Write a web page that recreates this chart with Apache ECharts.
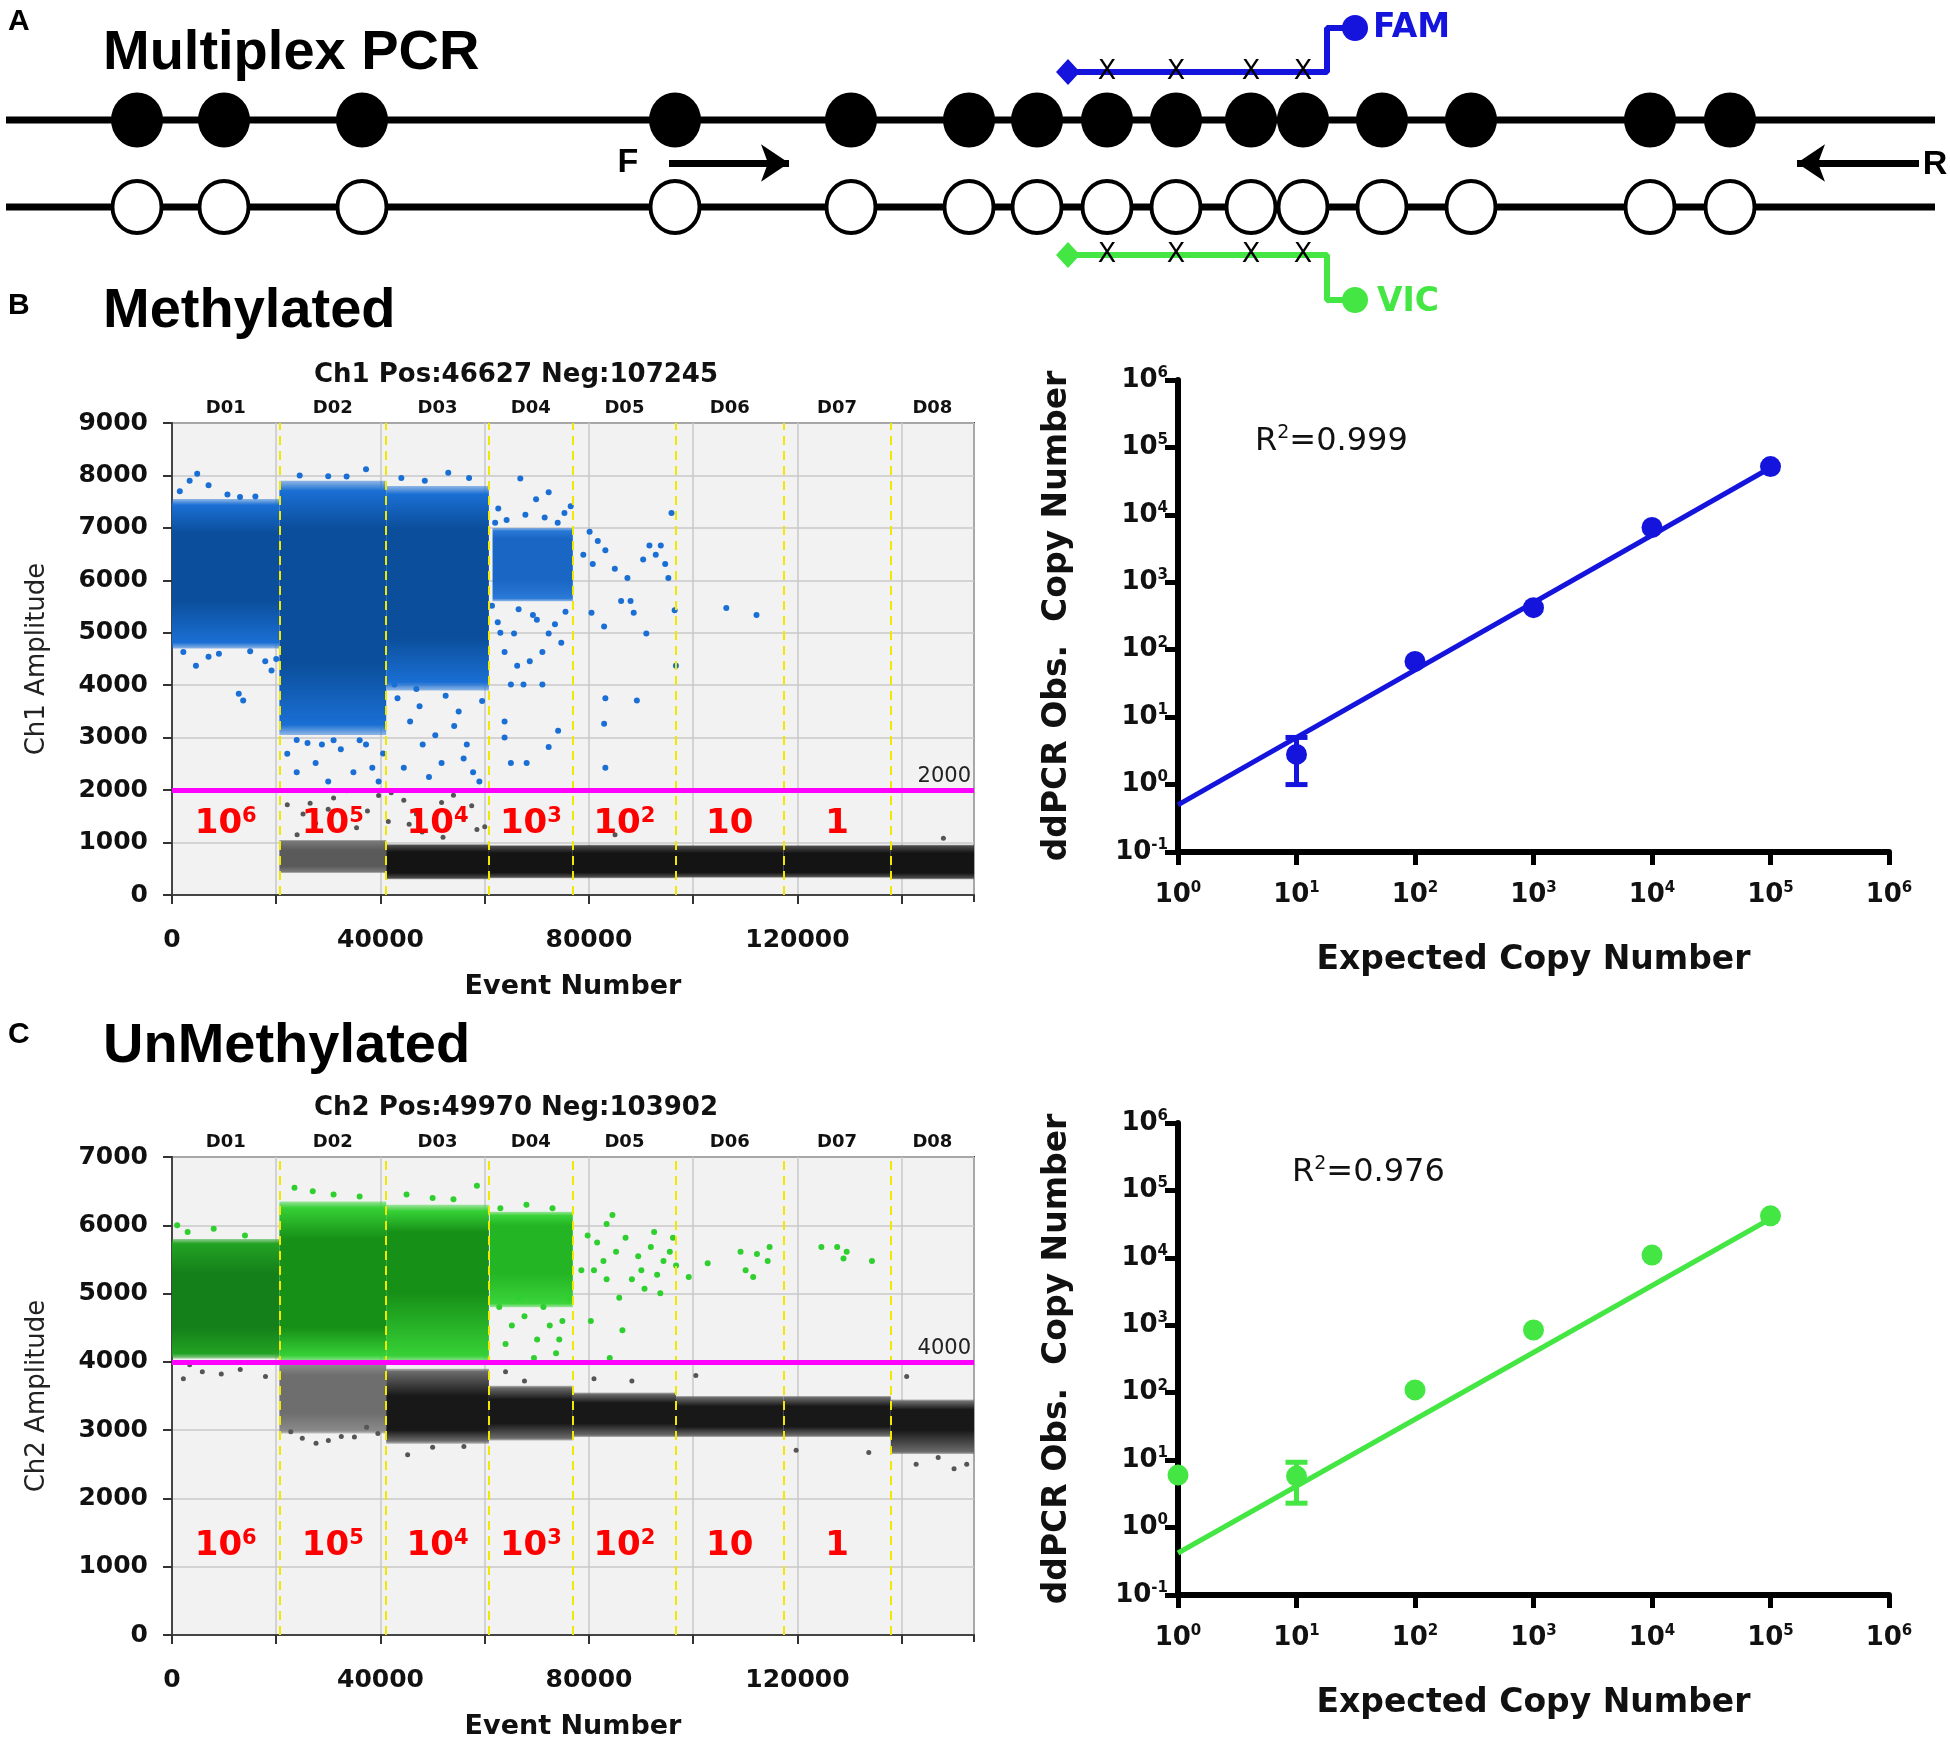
<!DOCTYPE html>
<html>
<head>
<meta charset="utf-8">
<script src="https://cdn.jsdelivr.net/npm/echarts@6/dist/echarts.min.js"></script>
<style>
  html, body { margin: 0; padding: 0; background: #fff; }
  #chart { width: 1950px; height: 1739px; }
</style>
</head>
<body>
<div id="chart"></div>
<script>
// ---- panel A: schematic (positions along the amplicon, page units) ----
var cpgSites = [137, 224, 362, 675, 851, 969, 1037, 1107, 1176, 1251, 1303, 1382, 1471, 1650, 1730];
var probeSites = [1107, 1176, 1251, 1303];
var primers = [[669, 789], [1919, 1797]];
var strandRows = [120, 207];
var probeFam = [[1068, 72], [1327, 72], [1327, 28], [1355, 28]];
var probeVic = [[1068, 255], [1327, 255], [1327, 300], [1355, 300]];

// ---- droplet plots ----
var totalEvents = 153872;
var wellEdges = [0, 20600, 41100, 60800, 76900, 96700, 117300, 137900, 153872];
var wellNames = ['D01', 'D02', 'D03', 'D04', 'D05', 'D06', 'D07', 'D08'];
var copyExp = [6, 5, 4, 3, 2, 1, 0];

// clouds: [eventStart, eventEnd, ampLow, ampHigh, coreLow, coreHigh]
var ch1Pos = [
  [0, 20600, 4700, 7550, 5600, 6900],
  [20600, 41100, 3050, 7900, 4400, 7000],
  [41100, 60800, 3900, 7800, 4900, 7000]
];
var ch1PosD04 = [[61500, 76900, 5600, 7000, 6000, 6800]];
var ch1NegGrey = [[20600, 41100, 420, 1050, 550, 850]];
var ch1NegBlack = [
  [41100, 60800, 300, 970, 420, 820], [60800, 76900, 320, 950, 430, 800],
  [76900, 96700, 320, 960, 430, 800], [96700, 117300, 330, 950, 430, 800],
  [117300, 137900, 330, 950, 430, 800], [137900, 153872, 300, 960, 420, 800]
];
var ch1PosSparse = [
  [2175, 4634], [4592, 4369], [7009, 4545], [12810, 3839], [13656, 3707], [17886, 4457], [19094, 4281],
  [4834, 8032], [3384, 7899], [7009, 7811], [10635, 7635], [13052, 7590], [1500, 7700], [16000, 7600],
  [9000, 4600], [15000, 4650], [20000, 4500],
  [22115, 2692], [23928, 2339], [27553, 2515], [29970, 2162], [32388, 2780], [34805, 2339], [37222, 2868],
  [39639, 2162], [28762, 2868], [23928, 2957], [38430, 2427], [37222, 8120], [29970, 7987], [24500, 8000],
  [33500, 7980], [26000, 2900], [31000, 2950], [36000, 2950], [40500, 2700],
  [43264, 3751], [45681, 3310], [48098, 2868], [50515, 3045], [51724, 2515], [54141, 3222], [56558, 2868],
  [57766, 2339], [58975, 2162], [44473, 2427], [49307, 2251], [55954, 2604], [42660, 4016], [46890, 3928], [53000, 8050],
  [44000, 7950], [48500, 7900], [57000, 7950], [59500, 3700], [52500, 3800], [47500, 3600], [55000, 3500],
  [66830, 7943], [62600, 7370], [69851, 7546], [72268, 7679], [75289, 7282], [76498, 7414], [63810, 4634],
  [66227, 4369], [68644, 4457], [71060, 4016], [65019, 4016], [67436, 4016], [63810, 3310], [63810, 3001],
  [72268, 2824], [65019, 2515], [68040, 2515], [74080, 3133], [61393, 5516], [69247, 5340], [72268, 4987],
  [74685, 4810], [73476, 5163], [71060, 4634], [65623, 4987], [62500, 5200], [64200, 7150], [67800, 7250],
  [63000, 5000], [66500, 5450], [70000, 5250], [75500, 5400], [62000, 7100], [71500, 7200], [74000, 7100],
  [80123, 6928], [81695, 6752], [78915, 6487], [83145, 6576], [80728, 6311], [84958, 6222], [80486, 5384],
  [86166, 5605], [82903, 5119], [87979, 5605], [88583, 5384], [87375, 6046], [90396, 6399], [91604, 6664],
  [92813, 6487], [93780, 6664], [94625, 6311], [95230, 6046], [91000, 4987], [95834, 7282], [96438, 5428],
  [96680, 4369], [83145, 3751], [89187, 3707], [82903, 3266], [83145, 2427],
  [106348, 5472], [112148, 5340]
];
var ch1NegSparse = [
  [22115, 1721], [25136, 1545], [29970, 1633], [33597, 1986], [39639, 1898], [44473, 1809], [51724, 1765],
  [55954, 1456], [46890, 1545], [27553, 1368], [35409, 1280], [42056, 1950], [60000, 1300], [48000, 1200],
  [24000, 1150], [52000, 1100], [31000, 1850], [57500, 1700], [85000, 1150], [148000, 1080],
  [26500, 1750], [37500, 1600], [41500, 1400], [45500, 1350], [54000, 1900], [58500, 1250]
];

var ch2Pos = [
  [0, 20600, 4050, 5800, 4500, 5300],
  [20600, 41100, 4000, 6350, 4500, 5800],
  [41100, 60800, 4000, 6300, 5000, 5900]
];
var ch2PosD04 = [[61000, 76900, 4800, 6200, 5300, 6000]];
var ch2NegGrey = [[20600, 41100, 2950, 4000, 3250, 3800]];
var ch2NegDark = [
  [41100, 60800, 2800, 3900, 3000, 3500], [60800, 76900, 2850, 3650, 3100, 3450],
  [76900, 96700, 2900, 3550, 3100, 3400], [96700, 117300, 2900, 3500, 3050, 3350],
  [117300, 137900, 2900, 3500, 3050, 3350], [137900, 153872, 2650, 3450, 3000, 3300]
];
var ch2PosSparse = [
  [79750, 5850], [81570, 5749], [83386, 6019], [85200, 5613], [87022, 5816], [89446, 5546], [91870, 5681],
  [94294, 5478], [96112, 5816], [80962, 5343], [83386, 5208], [85810, 4937], [88234, 5208], [90658, 5072],
  [93082, 5275], [95506, 5613], [80356, 4599], [86416, 4464], [78538, 5343], [82780, 5478], [90052, 5343],
  [93688, 5005], [96718, 5410], [83992, 4058], [84500, 6150], [92500, 5900],
  [102778, 5444], [109080, 5613], [112231, 5579], [110050, 5343], [111504, 5241], [114292, 5478], [114656, 5681], [99142, 5241],
  [124594, 5681], [127624, 5681], [128836, 5512], [134290, 5478], [129442, 5613],
  [62782, 4802], [65206, 4531], [67630, 4667], [70054, 4328], [72478, 4531], [73690, 4125], [63994, 4261],
  [66418, 4937], [71266, 4802], [74902, 4599], [69448, 4058], [74296, 4328], [76114, 4937],
  [23500, 6550], [27000, 6500], [45000, 6450], [58500, 6580], [1000, 6000],
  [3000, 5900], [8000, 5950], [14000, 5850], [31000, 6450], [36000, 6420], [50000, 6400], [54000, 6380],
  [63000, 6250], [68000, 6300], [73000, 6250]
];
var ch2NegSparse = [
  [2182, 3753], [5818, 3855], [9454, 3821], [13090, 3889], [17938, 3787], [3394, 3956],
  [22786, 2976], [27634, 2807], [32482, 2908], [37330, 3043], [45208, 2638],
  [142774, 2502], [150046, 2435], [152470, 2502], [119746, 2705], [133684, 2671], [140956, 3787],
  [63994, 3855], [67630, 3720], [80962, 3753], [88234, 3720], [100500, 3800], [147000, 2600],
  [25000, 2880], [30000, 2850], [35000, 2900], [39500, 2950], [50000, 2750], [56000, 2760]
];

// ---- standard curves ----
var expected = [1, 10, 100, 1000, 10000, 100000];
var methObserved = [null, 2.8, 67, 420, 6500, 52000];
var methErr = [[10, 1.0, 5.0]];
var methFit = [[1, 0.5], [100000, 50000]];
var unmethObserved = [6.0, 5.8, 110, 850, 11000, 42000];
var unmethErr = [[10, 2.3, 9.3]];
var unmethFit = [[1, 0.42], [100000, 38000]];

var SANS = 'DejaVu Sans';
var ARIAL = 'Liberation Sans';
var BLUE = '#1414dc';
var GREEN = '#44e644';
var RED = '#ff0000';

var chart = echarts.init(document.getElementById('chart'));

function centers() {
  return wellNames.map(function (n, i) { return (wellEdges[i] + wellEdges[i + 1]) / 2; });
}

function fade(hex, a) {
  var n = parseInt(hex.slice(1), 16);
  return 'rgba(' + (n >> 16 & 255) + ',' + (n >> 8 & 255) + ',' + (n & 255) + ',' + a + ')';
}

function cloudRender(edge, core) {
  return function (params, api) {
    var lo = api.value(2), hi = api.value(3);
    var tl = api.coord([api.value(0), hi]);
    var br = api.coord([api.value(1), lo]);
    var f1 = (hi - api.value(5)) / (hi - lo);
    var f2 = (hi - api.value(4)) / (hi - lo);
    return {
      type: 'rect',
      shape: { x: tl[0], y: tl[1], width: br[0] - tl[0], height: br[1] - tl[1] },
      style: {
        fill: new echarts.graphic.LinearGradient(0, 0, 0, 1, [
          { offset: 0, color: fade(edge, 0.45) }, { offset: 0.04, color: edge },
          { offset: f1, color: core }, { offset: f2, color: core },
          { offset: 0.96, color: edge }, { offset: 1, color: fade(edge, 0.45) }
        ])
      }
    };
  };
}

function cloud(xi, yi, data, edge, core, extra) {
  var s = {
    type: 'custom', xAxisIndex: xi, yAxisIndex: yi, silent: true,
    renderItem: cloudRender(edge, core), data: data, z: 2
  };
  if (extra) Object.keys(extra).forEach(function (k) { s[k] = extra[k]; });
  return s;
}

function dots(xi, yi, data, color, size) {
  return {
    type: 'scatter', xAxisIndex: xi, yAxisIndex: yi, silent: true, data: data,
    symbolSize: size || 6, itemStyle: { color: color, opacity: 1 }, z: 3
  };
}

function wellLines() {
  return {
    silent: true, symbol: 'none', animation: false, label: { show: false },
    lineStyle: { color: '#f0e800', type: [9, 6], width: 2, opacity: 1 },
    data: wellEdges.slice(1, -1).map(function (v) { return { xAxis: v }; })
  };
}

function thresholdLine(v) {
  return {
    silent: true, symbol: 'none', animation: false,
    lineStyle: { color: '#ff00ff', width: 5, type: 'solid', opacity: 1 },
    label: {
      show: true, position: 'insideEndTop', formatter: String(v), distance: 3,
      color: '#222', fontSize: 21, fontFamily: SANS
    },
    data: [{ yAxis: v }]
  };
}

function wellLabelSeries(xi, yi, ymax) {
  return {
    type: 'scatter', xAxisIndex: xi, yAxisIndex: yi, silent: true, clip: false,
    symbolSize: 0, z: 10, itemStyle: { opacity: 1 },
    data: centers().map(function (c) { return [c, ymax]; }),
    label: {
      show: true, position: 'top', distance: 6,
      formatter: function (p) { return wellNames[p.dataIndex]; },
      fontFamily: SANS, fontWeight: 'bold', fontSize: 18, color: '#111'
    }
  };
}

function copyLabelSeries(xi, yi, yv) {
  var cs = centers();
  return {
    type: 'scatter', xAxisIndex: xi, yAxisIndex: yi, silent: true, symbolSize: 0, z: 10,
    itemStyle: { opacity: 1 },
    data: copyExp.map(function (e, i) { return [cs[i], yv]; }),
    label: {
      show: true, position: 'inside',
      formatter: function (p) {
        var e = copyExp[p.dataIndex];
        if (e === 0) return '{b|1}';
        if (e === 1) return '{b|10}';
        return '{b|10}{s|' + e + '}';
      },
      rich: {
        b: { fontFamily: SANS, fontWeight: 'bold', fontSize: 34, color: RED },
        s: { fontFamily: SANS, fontWeight: 'bold', fontSize: 21, color: RED, padding: [0, 0, 16, 0] }
      }
    }
  };
}

function logLabel(v) {
  var e = Math.round(Math.log10(v));
  return '{b|10}{s|' + e + '}';
}
var logRich = {
  b: { fontFamily: SANS, fontWeight: 'bold', fontSize: 26, color: '#111' },
  s: { fontFamily: SANS, fontWeight: 'bold', fontSize: 15, color: '#111', padding: [0, 0, 14, 0] }
};

function errRender(color) {
  return function (params, api) {
    var x = api.value(0);
    var p1 = api.coord([x, api.value(1)]);
    var p2 = api.coord([x, api.value(2)]);
    var st = { stroke: color, lineWidth: 5 };
    return {
      type: 'group', children: [
        { type: 'line', shape: { x1: p1[0], y1: p1[1], x2: p2[0], y2: p2[1] }, style: st },
        { type: 'line', shape: { x1: p1[0] - 11, y1: p1[1], x2: p1[0] + 11, y2: p1[1] }, style: st },
        { type: 'line', shape: { x1: p2[0] - 11, y1: p2[1], x2: p2[0] + 11, y2: p2[1] }, style: st }
      ]
    };
  };
}

function ampAxes(gi, max, name) {
  var y = {
    type: 'value', gridIndex: gi, min: 0, max: max, interval: 1000,
    name: name, nameLocation: 'middle', nameGap: 122,
    nameTextStyle: { fontFamily: SANS, fontSize: 26, color: '#222' },
    axisLine: { show: true, lineStyle: { color: '#444', width: 2 } },
    axisTick: { show: true, length: 9, lineStyle: { color: '#333', width: 2 } },
    axisLabel: {
      margin: 24, fontFamily: SANS, fontWeight: 'bold', fontSize: 25, color: '#111',
      formatter: function (v) { return String(v); }
    },
    splitLine: { show: true, lineStyle: { color: '#c9c9c9', width: 1.5 } }
  };
  var yr = {
    type: 'value', gridIndex: gi, min: 0, max: max, interval: 1000, position: 'right',
    axisLine: { show: true, lineStyle: { color: '#444', width: 2 } },
    axisTick: { show: true, inside: true, length: 7, lineStyle: { color: '#333', width: 2 } },
    axisLabel: { show: false }, splitLine: { show: false }
  };
  var x = {
    type: 'value', gridIndex: gi, min: 0, max: totalEvents, interval: 20000,
    name: 'Event Number', nameLocation: 'middle', nameGap: 78,
    nameTextStyle: { fontFamily: SANS, fontWeight: 'bold', fontSize: 27, color: '#111' },
    axisLine: { show: true, lineStyle: { color: '#444', width: 2 } },
    axisTick: { show: true, length: 9, lineStyle: { color: '#333', width: 2 } },
    axisLabel: {
      margin: 33, fontFamily: SANS, fontWeight: 'bold', fontSize: 25, color: '#111',
      showMaxLabel: false,
      formatter: function (v) { return v % 40000 === 0 ? String(v) : ''; }
    },
    splitLine: { show: true, lineStyle: { color: '#c9c9c9', width: 1.5 } }
  };
  var xt = {
    type: 'value', gridIndex: gi, min: 0, max: totalEvents, interval: 20000, position: 'top',
    axisLine: { show: true, lineStyle: { color: '#444', width: 2 } },
    axisTick: { show: true, inside: true, length: 7, lineStyle: { color: '#333', width: 2 } },
    axisLabel: { show: false }, splitLine: { show: false }
  };
  return { x: [x, xt], y: [y, yr] };
}

function logAxes(gi) {
  var common = {
    type: 'log', gridIndex: gi, logBase: 10,
    nameLocation: 'middle',
    nameTextStyle: { fontFamily: SANS, fontWeight: 'bold', fontSize: 33, color: '#111' },
    axisLine: { show: true, onZero: false, lineStyle: { color: '#000', width: 6 } },
    axisTick: { show: true, length: 13, lineStyle: { color: '#000', width: 5 } },
    splitLine: { show: false }, minorTick: { show: false }
  };
  var x = echarts.util.merge({}, common);
  x.min = 1; x.max = 1e6; x.name = 'Expected Copy Number'; x.nameGap = 92;
  x.axisLabel = { formatter: logLabel, rich: logRich, margin: 29 };
  var y = echarts.util.merge({}, common);
  y.min = 0.1; y.max = 1e6; y.name = 'ddPCR Obs.  Copy Number'; y.nameGap = 104;
  y.axisLabel = { formatter: logLabel, rich: logRich, margin: 10 };
  return { x: x, y: y };
}

function txt(x, y, s, font, color, align, rich) {
  return {
    type: 'text', x: x, y: y, silent: true, z: 100,
    style: {
      text: s, font: font, fill: color || '#000',
      align: align || 'left', verticalAlign: 'middle',
      textAlign: align || 'left', textVerticalAlign: 'middle', rich: rich
    }
  };
}

var r2Rich = {
  a: { fontFamily: SANS, fontSize: 32, color: '#111' },
  s: { fontFamily: SANS, fontSize: 19, color: '#111', padding: [0, 0, 18, 0] }
};

var B = ampAxes(1, 9000, 'Ch1 Amplitude');
var C = ampAxes(3, 7000, 'Ch2 Amplitude');
var BR = logAxes(2);
var CR = logAxes(4);

var xAxes = [
  { type: 'value', gridIndex: 0, min: 0, max: 1950, show: false },
  B.x[0], B.x[1], BR.x, C.x[0], C.x[1], CR.x
];
var yAxes = [
  { type: 'value', gridIndex: 0, min: 0, max: 330, inverse: true, show: false },
  B.y[0], B.y[1], BR.y, C.y[0], C.y[1], CR.y
];

var blueDot = '#1a6fd4', blueCore = '#0b4f9c';
var blackEdge = '#4a4a4a', blackCore = '#141414';

function schem(extra) {
  var s = { xAxisIndex: 0, yAxisIndex: 0, silent: true };
  Object.keys(extra).forEach(function (k) { s[k] = extra[k]; });
  return s;
}

var series = [
  // panel A
  schem({
    type: 'line', symbol: 'none',
    data: [[6, strandRows[0]], [1935, strandRows[0]]],
    lineStyle: { color: '#000', width: 7, opacity: 1 }, z: 1,
    markLine: {
      silent: true, animation: false, symbol: ['none', 'arrow'], symbolSize: 28,
      lineStyle: { color: '#000', width: 7, type: 'solid', opacity: 1 }, label: { show: false },
      data: primers.map(function (p) { return [{ coord: [p[0], 163] }, { coord: [p[1], 163] }]; })
    }
  }),
  schem({
    type: 'line', symbol: 'none',
    data: [[6, strandRows[1]], [1935, strandRows[1]]],
    lineStyle: { color: '#000', width: 7, opacity: 1 }, z: 1
  }),
  schem({
    type: 'scatter', symbolSize: [52, 55],
    data: cpgSites.map(function (x) { return [x, strandRows[0]]; }),
    itemStyle: { color: '#000', opacity: 1 }, z: 2
  }),
  schem({
    type: 'scatter', symbolSize: [49, 52],
    data: cpgSites.map(function (x) { return [x, strandRows[1]]; }),
    itemStyle: { color: '#fff', borderColor: '#000', borderWidth: 4, opacity: 1 }, z: 2
  }),
  schem({
    type: 'line', symbol: 'none',
    data: probeFam, lineStyle: { color: BLUE, width: 6, opacity: 1 }, z: 3
  }),
  schem({
    type: 'line', symbol: 'none',
    data: probeVic, lineStyle: { color: GREEN, width: 6, opacity: 1 }, z: 3
  }),
  schem({
    type: 'scatter', symbol: 'diamond', symbolSize: [24, 26],
    data: [probeFam[0]], itemStyle: { color: BLUE, opacity: 1 }, z: 4
  }),
  schem({
    type: 'scatter', symbolSize: 26,
    data: [probeFam[probeFam.length - 1]], itemStyle: { color: BLUE, opacity: 1 }, z: 4
  }),
  schem({
    type: 'scatter', symbol: 'diamond', symbolSize: [24, 26],
    data: [probeVic[0]], itemStyle: { color: GREEN, opacity: 1 }, z: 4
  }),
  schem({
    type: 'scatter', symbolSize: 26,
    data: [probeVic[probeVic.length - 1]], itemStyle: { color: GREEN, opacity: 1 }, z: 4
  }),
  schem({
    type: 'scatter', symbolSize: 0, z: 5, itemStyle: { opacity: 1 },
    data: probeSites.map(function (x) { return [x, probeFam[0][1]]; })
      .concat(probeSites.map(function (x) { return [x, probeVic[0][1]]; })),
    label: { show: true, position: 'inside', formatter: 'X', fontFamily: SANS, fontSize: 27, color: '#000' }
  }),

  // panel B left
  cloud(1, 1, ch1Pos, blueDot, blueCore, { markLine: wellLines() }),
  cloud(1, 1, ch1PosD04, '#2a7ad8', '#1a66c4'),
  cloud(1, 1, ch1NegGrey, '#7a7a7a', '#5a5a5a'),
  cloud(1, 1, ch1NegBlack, blackEdge, blackCore),
  dots(1, 1, ch1PosSparse, blueDot, 6),
  dots(1, 1, ch1NegSparse, '#555555', 5),
  {
    type: 'line', xAxisIndex: 1, yAxisIndex: 1, data: [], silent: true,
    markLine: thresholdLine(2000), z: 6
  },
  wellLabelSeries(1, 1, 9000),
  copyLabelSeries(1, 1, 1350),

  // panel B right
  {
    type: 'line', xAxisIndex: 3, yAxisIndex: 3, silent: true, symbol: 'none',
    data: methFit, lineStyle: { color: BLUE, width: 5, opacity: 1 }, z: 3
  },
  {
    type: 'custom', xAxisIndex: 3, yAxisIndex: 3, silent: true,
    renderItem: errRender(BLUE), data: methErr, z: 4
  },
  {
    type: 'scatter', xAxisIndex: 3, yAxisIndex: 3, silent: true, symbolSize: 21,
    data: expected.map(function (x, i) { return [x, methObserved[i]]; })
      .filter(function (d) { return d[1] != null; }),
    itemStyle: { color: BLUE, opacity: 1 }, z: 5
  },

  // panel C left
  cloud(4, 4, ch2Pos.slice(0, 1), '#23a323', '#14801a', { markLine: wellLines() }),
  cloud(4, 4, ch2Pos.slice(1), '#36d136', '#179017'),
  cloud(4, 4, ch2PosD04, '#3ad43a', '#24b524'),
  cloud(4, 4, ch2NegGrey, '#8a8a8a', '#6e6e6e'),
  cloud(4, 4, ch2NegDark, '#6a6a6a', '#181818'),
  dots(4, 4, ch2PosSparse, '#2fcf2f', 6),
  dots(4, 4, ch2NegSparse, '#555555', 5),
  {
    type: 'line', xAxisIndex: 4, yAxisIndex: 4, data: [], silent: true,
    markLine: thresholdLine(4000), z: 6
  },
  wellLabelSeries(4, 4, 7000),
  copyLabelSeries(4, 4, 1300),

  // panel C right
  {
    type: 'line', xAxisIndex: 6, yAxisIndex: 6, silent: true, symbol: 'none',
    data: unmethFit, lineStyle: { color: GREEN, width: 5, opacity: 1 }, z: 3
  },
  {
    type: 'custom', xAxisIndex: 6, yAxisIndex: 6, silent: true,
    renderItem: errRender(GREEN), data: unmethErr, z: 4
  },
  {
    type: 'scatter', xAxisIndex: 6, yAxisIndex: 6, silent: true, symbolSize: 21,
    data: expected.map(function (x, i) { return [x, unmethObserved[i]]; }),
    itemStyle: { color: GREEN, opacity: 1 }, z: 5
  }
];

var option = {
  animation: false,
  backgroundColor: '#fff',
  grid: [
    { left: 0, top: 0, width: 1950, height: 330, outerBoundsMode: 'none' },
    { left: 172, top: 423, width: 802, height: 472, show: true, backgroundColor: '#f2f2f2',
      borderColor: '#444', borderWidth: 2, outerBoundsMode: 'none' },
    { left: 1178, top: 380, width: 711, height: 472, outerBoundsMode: 'none' },
    { left: 172, top: 1157, width: 802, height: 478, show: true, backgroundColor: '#f2f2f2',
      borderColor: '#444', borderWidth: 2, outerBoundsMode: 'none' },
    { left: 1178, top: 1123, width: 711, height: 472, outerBoundsMode: 'none' }
  ],
  xAxis: xAxes,
  yAxis: yAxes,
  series: series,
  graphic: [
    txt(8, 22, 'A', 'bold 30px ' + ARIAL),
    txt(103, 54, 'Multiplex PCR', 'bold 56px ' + ARIAL),
    txt(628, 163, 'F', 'bold 34px ' + ARIAL, '#000', 'center'),
    txt(1935, 165, 'R', 'bold 34px ' + ARIAL, '#000', 'center'),
    txt(1373, 28, 'FAM', 'bold 33px ' + SANS, BLUE),
    txt(1377, 302, 'VIC', 'bold 33px ' + SANS, GREEN),
    txt(8, 306, 'B', 'bold 30px ' + ARIAL),
    txt(103, 312, 'Methylated', 'bold 56px ' + ARIAL),
    txt(516, 375, 'Ch1 Pos:46627 Neg:107245', 'bold 26px ' + SANS, '#111', 'center'),
    txt(8, 1035, 'C', 'bold 30px ' + ARIAL),
    txt(103, 1047, 'UnMethylated', 'bold 56px ' + ARIAL),
    txt(516, 1108, 'Ch2 Pos:49970 Neg:103902', 'bold 26px ' + SANS, '#111', 'center'),
    txt(1255, 442, '{a|R}{s|2}{a|=0.999}', '32px ' + SANS, '#111', 'left', r2Rich),
    txt(1292, 1173, '{a|R}{s|2}{a|=0.976}', '32px ' + SANS, '#111', 'left', r2Rich)
  ]
};

chart.setOption(option);
</script>
</body>
</html>
